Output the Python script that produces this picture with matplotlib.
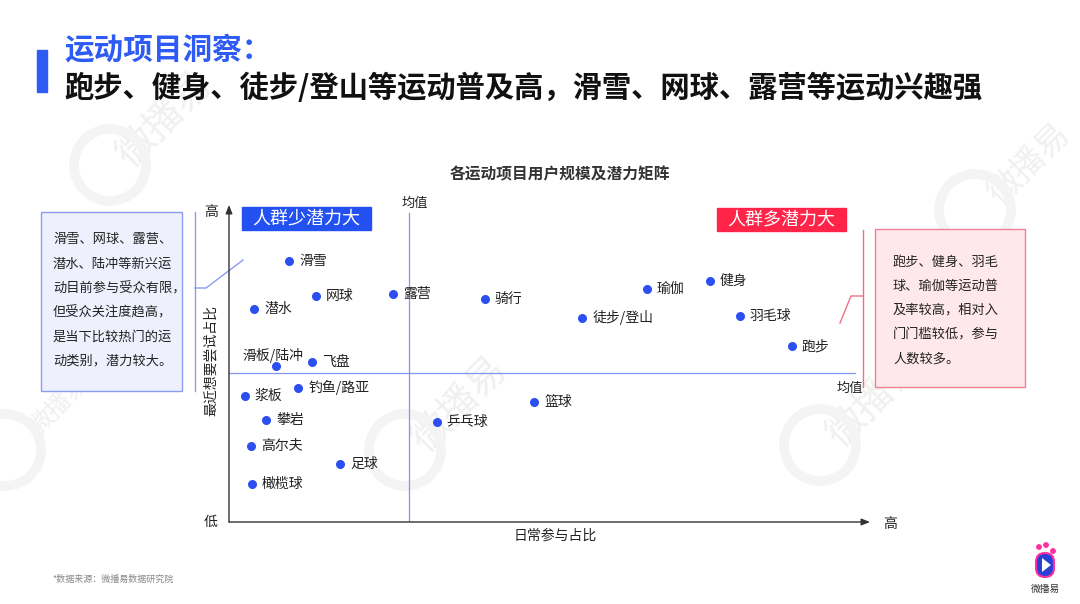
import matplotlib
matplotlib.use("Agg")
import matplotlib.pyplot as plt
from matplotlib.patches import Rectangle, FancyBboxPatch, Polygon, Circle

plt.rcParams['font.family'] = ['Noto Sans CJK SC', 'DejaVu Sans']

# ---------------- data ----------------
sports = ["滑雪", "网球", "露营", "潜水", "骑行", "瑜伽", "健身", "徒步/登山", "羽毛球", "跑步",
          "滑板/陆冲", "飞盘", "钓鱼/路亚", "浆板", "攀岩", "高尔夫", "足球", "橄榄球", "乒乓球", "篮球"]
daily_share = [9.4, 13.6, 25.6, 3.9, 39.9, 65.2, 75.0, 55.1, 79.7, 87.8,
               7.3, 12.9, 10.8, 2.5, 5.8, 3.4, 17.3, 3.6, 32.4, 47.6]
try_share = [82.3, 71.3, 71.9, 67.2, 70.3, 73.5, 76.0, 64.4, 65.0, 55.5,
             49.2, 50.5, 42.3, 39.7, 32.2, 23.9, 18.3, 12.0, 31.5, 37.9]
mean_x = 28.1
mean_y = 47.0

title1 = "运动项目洞察："
title2 = "跑步、健身、徒步/登山等运动普及高，滑雪、网球、露营等运动兴趣强"
chart_title = "各运动项目用户规模及潜力矩阵"
xlabel = "日常参与占比"
ylabel = "最近想要尝试占比"
quad_left = "人群少潜力大"
quad_right = "人群多潜力大"
left_note = ["滑雪、网球、露营、", "潜水、陆冲等新兴运", "动目前参与受众有限，",
             "但受众关注度趋高，", "是当下比较热门的运", "动类别，潜力较大。"]
right_note = ["跑步、健身、羽毛", "球、瑜伽等运动普", "及率较高，相对入", "门门槛较低，参与", "人数较多。"]
source = "*数据来源：微播易数据研究院"

W, H = 1080, 604
fig = plt.figure(figsize=(W / 100, H / 100), dpi=100)
fig.patch.set_facecolor("white")

# overlay axes in pixel coordinates
bg = fig.add_axes([0, 0, 1, 1])
bg.set_xlim(0, W)
bg.set_ylim(H, 0)
bg.axis("off")

# watermarks (faint)
for (wx, wy, fs) in [(165, 120, 28), (460, 405, 28), (875, 400, 28), (1030, 165, 24), (60, 405, 18)]:
    bg.text(wx, wy, "微播易", fontsize=fs, color="#f0f0f0", rotation=45,
            ha="center", va="center", zorder=0)
    bg.add_patch(Circle((wx - 55, wy + 45), 36, fill=False, ec="#f4f4f4", lw=7, zorder=0))

# title
blue = "#2f5bf5"
bg.add_patch(Rectangle((37, 50), 10, 42, color=blue, zorder=2))
bg.text(64, 50, title1, fontsize=21.3, fontweight="bold", color=blue, va="center", ha="left")
bg.text(64, 88, title2, fontsize=21.1, fontweight="bold", color="#111111", va="center", ha="left")

# chart title
bg.text(560, 174, chart_title, fontsize=11.3, fontweight="bold", color="#333333", ha="center", va="center")

# axis end labels
bg.text(211, 212, "高", fontsize=10, color="#222222", ha="center", va="center")
bg.text(211, 522, "低", fontsize=10, color="#222222", ha="center", va="center")
bg.text(890, 524, "高", fontsize=10, color="#222222", ha="center", va="center")
bg.text(211, 360, ylabel, fontsize=10, color="#222222", ha="center", va="center", rotation=90)
bg.text(555, 536, xlabel, fontsize=10, color="#222222", ha="center", va="center")

# quadrant labels
bg.add_patch(Rectangle((242, 207), 129, 23, color="#2350f0", zorder=3))
bg.text(306.5, 218.5, quad_left, fontsize=13, color="white", ha="center", va="center", zorder=4)
bg.add_patch(Rectangle((717, 208), 129, 23, color="#ff2448", zorder=3))
bg.text(781.5, 219.5, quad_right, fontsize=13, color="white", ha="center", va="center", zorder=4)

# left note box
bg.add_patch(Rectangle((41, 212), 141, 179, fc="#eef0fd", ec="#8a9cf0", lw=1, zorder=2))
for i, line in enumerate(left_note):
    bg.text(53, 240 + i * 24.2, line, fontsize=9.5, color="#222222", ha="left", va="center", zorder=3)
bg.plot([195, 195], [212, 391], color="#8a9cf0", lw=1)
bg.plot([195, 206, 243], [288, 288, 260], color="#8a9cf0", lw=1)

# right note box
bg.add_patch(Rectangle((875, 229), 150, 158, fc="#ffe8ec", ec="#f08090", lw=1, zorder=2))
for i, line in enumerate(right_note):
    bg.text(893, 262 + i * 24.2, line, fontsize=9.5, color="#222222", ha="left", va="center", zorder=3)
bg.plot([863, 863], [230, 387], color="#f07085", lw=1)
bg.plot([863, 851, 840], [296, 296, 323], color="#f07085", lw=1)

# footnote
bg.text(52, 579, source, fontsize=6.5, color="#888888", ha="left", va="center")

# logo bottom right
bg.add_patch(FancyBboxPatch((1036, 553), 18, 24, boxstyle="round,pad=0,rounding_size=9",
                            fc="#2b3fd6", ec="#ff2fa0", lw=1.5, zorder=3))
bg.add_patch(Polygon([[1042, 558], [1042, 572], [1051, 565]], closed=True, fc="white", zorder=4))
for (cx, cy, r) in [(1039, 547, 2.2), (1046, 545, 2.2), (1053, 551, 2.2)]:
    bg.add_patch(Circle((cx, cy), r, color="#ff2fa0", zorder=3))
bg.text(1045, 589, "微播易", fontsize=7, color="#333333", ha="center", va="center")

# ---------------- chart axes ----------------
L, R, B, T = 229, 870, 522, 205
ax = fig.add_axes([L / W, (H - B) / H, (R - L) / W, (B - T) / H])
ax.set_xlim(0, 100)
ax.set_ylim(0, 100)
ax.axis("off")
ax.patch.set_alpha(0)

# axes arrows
ax.annotate("", xy=(0, 1.0), xytext=(0, 0), xycoords="axes fraction",
            arrowprops=dict(arrowstyle="-|>,head_length=0.5,head_width=0.2", color="#333333", lw=1, shrinkA=0, shrinkB=0))
ax.annotate("", xy=(1.0, 0), xytext=(0, 0), xycoords="axes fraction",
            arrowprops=dict(arrowstyle="-|>,head_length=0.5,head_width=0.2", color="#333333", lw=1, shrinkA=0, shrinkB=0))

# mean lines
line_blue = "#7f97f2"
ax.plot([mean_x, mean_x], [0, 97.5], color=line_blue, lw=0.9)
ax.plot([0, 97.7], [mean_y, mean_y], color=line_blue, lw=0.9)
ax.text(mean_x + 0.9, 100.5, "均值", fontsize=9.5, color="#222222", ha="center", va="center", clip_on=False)
ax.text(96.8, mean_y - 4.9, "均值", fontsize=9.5, color="#222222", ha="center", va="center", clip_on=False)

# points
ax.scatter(daily_share, try_share, s=30, color="#2b4ff0", zorder=5, clip_on=False)
for name, x, y in zip(sports, daily_share, try_share):
    if name == "滑板/陆冲":
        ax.annotate(name, (x, y), xytext=(-33, 11), textcoords="offset pixels",
                    fontsize=10, color="#222222", ha="left", va="center")
    else:
        ax.annotate(name, (x, y), xytext=(10, 0), textcoords="offset pixels",
                    fontsize=10, color="#222222", ha="left", va="center")

fig.savefig("out.png", dpi=100, facecolor="white")
